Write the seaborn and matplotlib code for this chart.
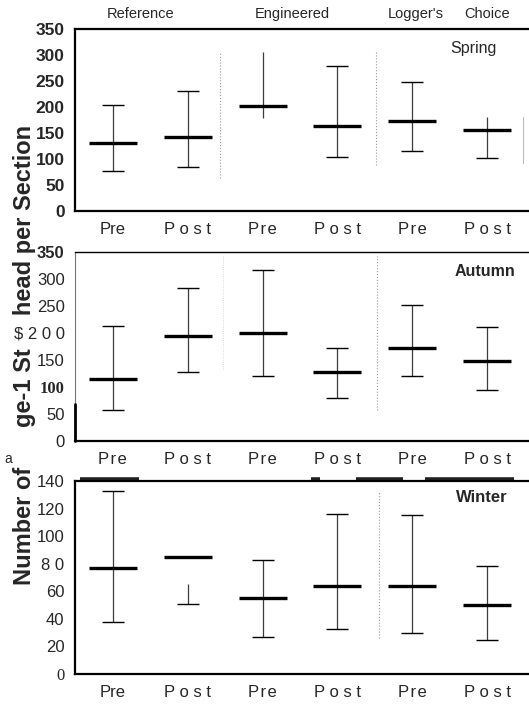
import numpy as np
import pandas as pd
import matplotlib
matplotlib.use("Agg")
import matplotlib.pyplot as plt
import seaborn as sns

# ---------------- data ----------------
positions = [0, 1, 2, 3, 4, 5]
groups = ["Reference", "Reference", "Engineered", "Engineered", "Logger's Choice", "Logger's Choice"]
periods = ["Pre", "Post", "Pre", "Post", "Pre", "Post"]

spring_mean = [131, 143, 202, 163, 174, 156]
spring_lo = [76, 84, 179, 103, 115, 102]
spring_hi = [204, 231, 305, 278, 249, 181]
spring_lo_cap = [True, True, False, True, True, True]
spring_hi_cap = [True, True, False, True, True, False]

autumn_mean = [115, 195, 200, 128, 172, 149]
autumn_lo = [58, 127, 120, 80, 121, 95]
autumn_hi = [213, 283, 317, 173, 252, 211]
autumn_lo_cap = [True, True, True, True, True, True]
autumn_hi_cap = [True, True, True, True, True, True]

winter_mean = [77, 85, 55, 64, 64, 50]
winter_lo = [38, 51, 27, 33, 30, 25]
winter_hi = [133, 65, 83, 116, 115, 78]
winter_lo_cap = [True, True, True, True, True, True]
winter_hi_cap = [True, False, True, True, True, True]

HS = "\u200a"
spring_xlabels = ["Pre", "P o s t", f"P{HS}r{HS}e", "P o s t", f"P{HS}r{HS}e", "P o s t"]
autumn_xlabels = [f"P{HS}r{HS}e", "P o s t", f"P{HS}r{HS}e", "P o s t", f"P{HS}r{HS}e", "P o s t"]
winter_xlabels = ["Pre", "P o s t", f"P{HS}r{HS}e", "P o s t", f"P{HS}r{HS}e", "P o s t"]

spring_yticks = [0, 50, 100, 150, 200, 250, 300, 350]
spring_ylabels = ["0", "50", "100", "150", "200", "250", "300", "350"]
autumn_yticks = [0, 50, 100, 150, 200, 250, 300, 350]
autumn_ylabels = ["0", "50", "100", "150", "$ 2 0 0", "250", "300", "350"]
winter_yticks = [0, 20, 40, 60, 80, 100, 120, 140]
winter_ylabels = ["0", "20", "40", "60", "8 0", "100", "120", "140"]

group_labels = ["Reference", "Engineered", "Logger's", "Choice"]
group_label_x = [0.37, 2.4, 4.05, 5.0]

# ---------------- style ----------------
sns.set_theme(style="white")
plt.rcParams["font.family"] = ["Liberation Sans", "DejaVu Sans"]

W, H = 529, 707
fig = plt.figure(figsize=(W / 100, H / 100), dpi=100)


def rect(left, top, right, bottom):
    return [left / W, 1 - bottom / H, (right - left) / W, (bottom - top) / H]


XLIM = (-0.5, -0.5 + 454 / 75)


def draw_panel(ax, mean, lo, hi, lo_cap, hi_cap, ymax, yticks, ylabels, xlabels):
    df = pd.DataFrame({"pos": positions, "group": groups, "period": periods,
                       "mean": mean, "lo": lo, "hi": hi,
                       "lo_cap": lo_cap, "hi_cap": hi_cap})
    ax.vlines(df["pos"], df["lo"], df["hi"], color="#3c3c3c", lw=0.9, zorder=2)
    lc = df[df["lo_cap"]]
    hc = df[df["hi_cap"]]
    sns.scatterplot(data=lc, x="pos", y="lo", marker="_", s=230, linewidth=1.0,
                    color="black", ax=ax, legend=False, zorder=3)
    sns.scatterplot(data=hc, x="pos", y="hi", marker="_", s=230, linewidth=1.0,
                    color="black", ax=ax, legend=False, zorder=3)
    sns.scatterplot(data=df, x="pos", y="mean", marker="_", s=1180, linewidth=2.4,
                    color="black", ax=ax, legend=False, zorder=4)
    ax.set_xlim(*XLIM)
    ax.set_ylim(0, ymax)
    ax.set_xticks(positions)
    ax.set_xticklabels(xlabels, fontsize=12)
    ax.set_yticks(yticks)
    ax.set_yticklabels(ylabels, fontsize=12)
    ax.tick_params(axis="both", length=0)
    ax.tick_params(axis="x", pad=8)
    ax.tick_params(axis="y", pad=7.5)
    ax.set_xlabel("")
    ax.set_ylabel("")
    ax.grid(False)
    for side in ["left", "top", "bottom"]:
        ax.spines[side].set_visible(True)
        ax.spines[side].set_color("black")
        ax.spines[side].set_linewidth(1.6)
    ax.spines["right"].set_visible(False)


ax1 = fig.add_axes(rect(75, 29, 529, 211))
ax2 = fig.add_axes(rect(75, 252, 529, 441))
ax3 = fig.add_axes(rect(75, 481, 529, 674))

draw_panel(ax1, spring_mean, spring_lo, spring_hi, spring_lo_cap, spring_hi_cap,
           350, spring_yticks, spring_ylabels, spring_xlabels)
draw_panel(ax2, autumn_mean, autumn_lo, autumn_hi, autumn_lo_cap, autumn_hi_cap,
           350, autumn_yticks, autumn_ylabels, autumn_xlabels)
draw_panel(ax3, winter_mean, winter_lo, winter_hi, winter_lo_cap, winter_hi_cap,
           140, winter_yticks, winter_ylabels, winter_xlabels)

# tick label quirks of the scanned original
for t in ax1.get_yticklabels():
    t.set_fontweight("bold")
    t.set_fontsize(12.5)
for t in ax2.get_yticklabels():
    if t.get_text() == "350":
        t.set_fontweight("bold")
    if t.get_text() == "100":
        t.set_fontfamily("Liberation Serif")
        t.set_fontweight("bold")
for t in ax3.get_yticklabels():
    if t.get_text() == "0":
        t.set_fontfamily("Liberation Serif")

# panel 2 spines: thin top/left with heavy lower-left part
ax2.spines["top"].set_linewidth(1.0)
ax2.spines["left"].set_linewidth(0.8)
ax2.spines["left"].set_color("#777777")
ax2.plot([XLIM[0], XLIM[0]], [0, 68], color="black", lw=2.0, clip_on=False, zorder=5)

# dotted group separators
sep = dict(color="#9a9a9a", lw=0.8, ls=":", zorder=1)
ax1.plot([1.43, 1.43], [63, 306], **sep)
ax1.plot([3.52, 3.52], [88, 306], **sep)
ax1.plot([5.47, 5.47], [92, 181], color="#bbbbbb", lw=0.8, zorder=1)
ax2.plot([1.48, 1.48], [134, 343], color="#cccccc", lw=0.6, ls=":", zorder=1)
ax2.plot([3.53, 3.53], [57, 343], **sep)
ax3.plot([3.55, 3.55], [26, 133], **sep)

# heavy scan marks along the top edge of the winter panel
xt = ax3.get_xaxis_transform()
for x0, x1 in [(-0.43, 0.35), (2.64, 2.77), (3.24, 3.87), (4.17, 5.35)]:
    ax3.plot([x0, x1], [1.01, 1.01], color="#222222", lw=2.6, transform=xt,
             clip_on=False, solid_capstyle="butt")

# group labels above the first panel
xt1 = ax1.get_xaxis_transform()
for lab, gx in zip(group_labels, group_label_x):
    ax1.text(gx, 1.085, lab, transform=xt1, ha="center", va="center", fontsize=10.5)

# season labels
ax1.text(4.81, 313, "Spring", ha="center", va="center", fontsize=11.5)
ax2.text(4.97, 313, "Autumn", ha="center", va="center", fontsize=11.5, fontweight="bold")
ax3.text(4.93, 128, "Winter", ha="center", va="center", fontsize=12, fontweight="bold")

# y-axis label (as in the scanned original)
fig.text(25 / W, 1 - 355 / H, "Number of" + " " * 6 + "ge-1 St" + " " * 5 + "head per Section",
         rotation=90, ha="center", va="center", fontsize=17, fontweight="bold")
fig.text(8 / W, 1 - 459 / H, "a", ha="center", va="center", fontsize=10)

fig.savefig("out.png", dpi=100)
